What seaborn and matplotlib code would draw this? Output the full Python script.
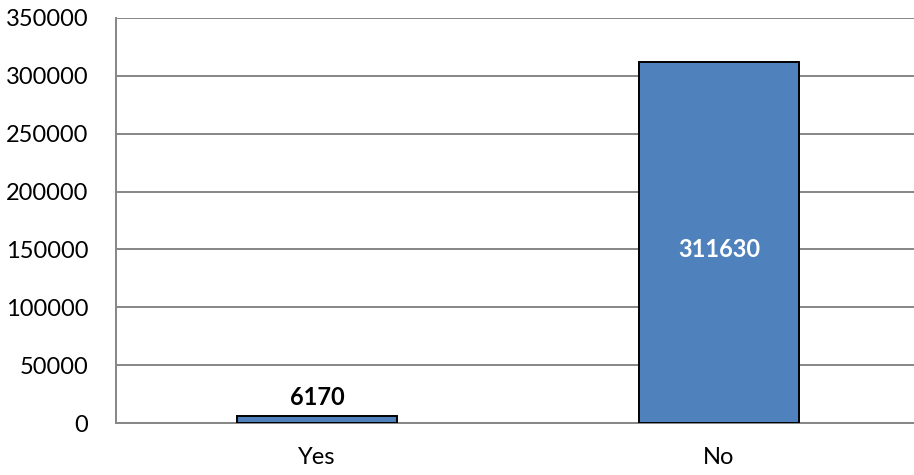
import matplotlib
matplotlib.use("Agg")
import matplotlib.pyplot as plt
import seaborn as sns
import pandas as pd
from matplotlib.ticker import MultipleLocator, FixedLocator

categories = ["Yes", "No"]
values = [6170, 311630]

df = pd.DataFrame({"cat": categories, "val": values})

sns.set_style("white")
plt.rcParams['font.family'] = ['Lato', 'DejaVu Sans']

W, H = 914, 475
fig = plt.figure(figsize=(W / 100, H / 100), dpi=100)
left, right, top, bottom = 116, 920, 18, 423
ax = fig.add_axes([left / W, 1 - bottom / H, (right - left) / W, (bottom - top) / H])

grid_c = "#868686"
sns.barplot(data=df, x="cat", y="val", ax=ax, color="#4F81BD", saturation=1,
            width=0.4, edgecolor="black", linewidth=1.4, zorder=3)

ax.set_ylim(0, 350000)
ax.set_xlim(-0.5, 1.5)
ax.yaxis.set_major_locator(MultipleLocator(50000))
ax.grid(axis="y", color=grid_c, linewidth=1.4, zorder=0)
ax.set_axisbelow(True)
ax.set_xlabel("")
ax.set_ylabel("")

for s in ["top", "right"]:
    ax.spines[s].set_visible(False)
for s in ["left", "bottom"]:
    ax.spines[s].set_color(grid_c)
    ax.spines[s].set_linewidth(1.4)

ax.tick_params(axis="y", which="major", length=8, width=1.4, color=grid_c,
               labelsize=17, labelcolor="black", pad=12)
ax.tick_params(axis="x", which="major", length=0, labelsize=17, labelcolor="black", pad=17)
ax.xaxis.set_minor_locator(FixedLocator([-0.5, 0.5, 1.5]))
ax.tick_params(axis="x", which="minor", length=8, width=1.4, color=grid_c)

# data labels
ax.annotate(f"{values[0]}", xy=(0, values[0]), xytext=(0, 5), textcoords="offset points",
            ha="center", va="bottom", fontsize=17, fontweight="bold", color="black")
ax.annotate(f"{values[1]}", xy=(1, values[1] / 2), xytext=(0, -5), textcoords="offset points",
            ha="center", va="center", fontsize=17, fontweight="bold", color="white")

fig.savefig("out.png", dpi=100)
